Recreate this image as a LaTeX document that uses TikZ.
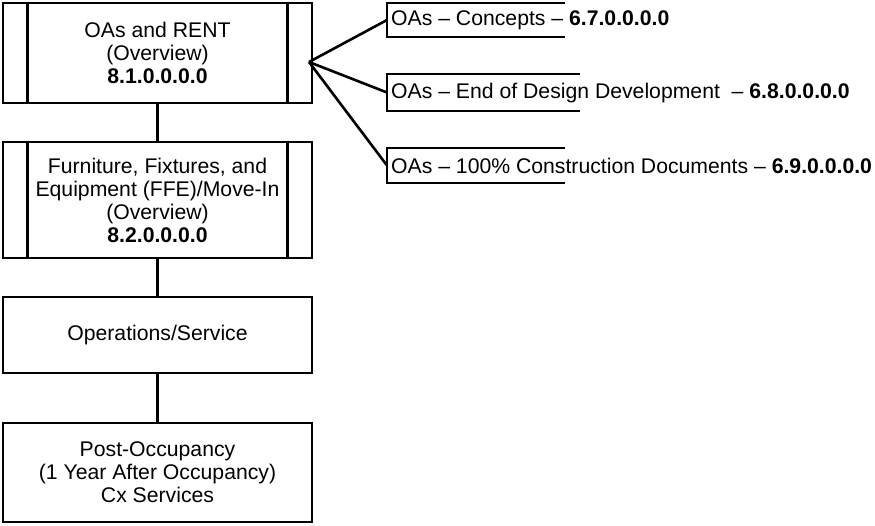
\documentclass[tikz,border=0pt]{standalone}
\usepackage{fontspec}
\setmainfont{Liberation Sans}
\begin{document}
\begin{tikzpicture}[x=1pt,y=-1pt,
  every node/.style={font=\fontsize{21.2}{23}\selectfont},
  box/.style={draw, line width=2.6pt, minimum width=309pt, align=center, inner sep=0pt},
  ln/.style={line width=2.6pt},
  ann/.style={anchor=west, inner sep=0pt}]
\useasboundingbox (0,0) rectangle (875,525);
% boxes
\node[box, minimum height=100pt] (b1) at (157.5,53) {OAs and RENT\\(Overview)\\\textbf{8.1.0.0.0.0}};
\node[box, minimum height=116pt] (b2) at (157.5,200) {Furniture, Fixtures, and\\Equipment (FFE)/Move-In\\(Overview)\\\textbf{8.2.0.0.0.0}};
\node[box, minimum height=76pt] (b3) at (157.5,335) {Operations/Service};
\node[box, minimum height=99pt] (b4) at (157.5,472.5) {Post-Occupancy\\(1 Year After Occupancy)\\Cx Services};
% predefined process side bars
\foreach \b in {b1,b2}{
  \draw[ln] ([xshift=26pt]\b.north west) -- ([xshift=26pt]\b.south west);
  \draw[ln] ([xshift=-26pt]\b.north east) -- ([xshift=-26pt]\b.south east);
}
% vertical connectors
\draw[ln] (b1) -- (b2);
\draw[ln] (b2) -- (b3);
\draw[ln] (b3) -- (b4);
% annotations
\coordinate (a1) at (387,20);
\coordinate (a2) at (387,92.5);
\coordinate (a3) at (387,165.5);
\draw[ln] (565,3) -- (387,3) -- (387,37) -- (565,37);
\draw[ln] (580,74) -- (387,74) -- (387,111) -- (580,111);
\draw[ln] (565,148) -- (387,148) -- (387,183) -- (565,183);
\node[ann] (t1) at (391,20) {OAs -- Concepts -- \textbf{6.7.0.0.0.0}};
\node[ann] (t2) at (391,93) {OAs -- End of Design Development\ \ -- \textbf{6.8.0.0.0.0}};
\node[ann] (t3) at (391,165.5) {OAs -- 100\% Construction Documents -- \textbf{6.9.0.0.0.0}};
\coordinate (fan) at (309,62);
\draw[ln] (fan) -- (a1);
\draw[ln] (fan) -- (a2);
\draw[ln] (fan) -- (a3);
\end{tikzpicture}
\end{document}
